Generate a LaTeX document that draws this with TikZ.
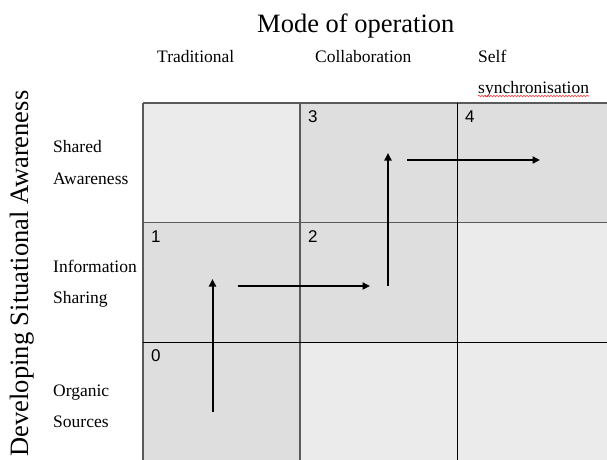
\documentclass[tikz,border=0pt]{standalone}
\usepackage{fontspec}
\setmainfont{Liberation Serif}
\newfontfamily\numfont{Liberation Sans}
\usetikzlibrary{arrows.meta,decorations.pathmorphing}

\definecolor{cellLight}{HTML}{EBEBEB}
\definecolor{cellDark}{HTML}{DEDEDE}
\definecolor{gridGray}{HTML}{5A5A5A}

\tikzset{
  cell/.style={draw=none, inner sep=0pt, outer sep=0pt, minimum width=157pt, minimum height=119.5pt, anchor=north west},
  lightcell/.style={cell, fill=cellLight},
  darkcell/.style={cell, fill=cellDark},
  label/.style={font=\fontsize{17.5}{20}\selectfont, inner sep=0pt, anchor=base west},
  heading/.style={font=\fontsize{26.5}{30}\selectfont, inner sep=0pt},
  levelnum/.style={font=\numfont\fontsize{17}{20}\selectfont, inner sep=0pt, anchor=base west},
  soft/.style={draw=gridGray, line width=1.4pt},
  hard/.style={draw=black, line width=1pt},
  progress/.style={line width=2pt, -{Triangle[length=7.5pt,width=7pt]}},
  spellmark/.style={draw=red!75!white, line width=0.6pt, decorate,
    decoration={snake, amplitude=0.8pt, segment length=3pt}}
}

\begin{document}
\begin{tikzpicture}[x=1pt,y=-1pt]
\useasboundingbox (0,0) rectangle (607,459);
\fill[white] (0,0) rectangle (607,459);

% grid cells (rows: top, middle, bottom)
\node[lightcell] (c00) at (143,103)   {};
\node[darkcell]  (c10) at (300,103)   {};
\node[darkcell]  (c20) at (457,103)   {};
\node[darkcell]  (c01) at (143,222.5) {};
\node[darkcell]  (c11) at (300,222.5) {};
\node[lightcell] (c21) at (457,222.5) {};
\node[darkcell]  (c02) at (143,342)   {};
\node[lightcell] (c12) at (300,342)   {};
\node[lightcell] (c22) at (457,342)   {};

% grid lines
\draw[soft] (c00.north west) -- (c20.north east);
\draw[soft] (c00.north west) -- (c02.south west);
\draw[soft] (c10.north west) -- (c12.south west);
\draw[soft] (c01.north west) -- (c21.north east);
\draw[hard] (c20.north west) -- (c22.south west);
\draw[hard] (c02.north west) -- (c22.north east);

% level numbers
\node[levelnum] (n0) at (151,361.5) {0};
\node[levelnum] (n1) at (151,242) {1};
\node[levelnum] (n2) at (308,242) {2};
\node[levelnum] (n3) at (308,122.5) {3};
\node[levelnum] (n4) at (465,122.5) {4};

% headings
\node[heading, anchor=base west] (mode) at (257,32) {Mode of operation};
\node[heading, anchor=base, rotate=90] (dsa) at (28,273.5) {Developing Situational Awareness};

% column labels
\node[label] (trad) at (157,62) {Traditional};
\node[label] (coll) at (315,62) {Collaboration};
\node[label] (self) at (478,62) {Self};
\node[label] (sync) at (478,93) {synchronisation};
\draw[spellmark] ([yshift=-3pt]sync.base west) -- ([yshift=-3pt]sync.base east);

% row labels
\node[label] (sh1) at (53,152) {Shared};
\node[label] (sh2) at (53,184) {Awareness};
\node[label] (in1) at (53,272) {Information};
\node[label] (in2) at (53,303) {Sharing};
\node[label] (or1) at (53,396) {Organic};
\node[label] (or2) at (53,427) {Sources};

% staircase of arrows
\coordinate (a0) at (212.5,412);
\coordinate (a1) at (212.5,279);
\coordinate (b0) at (237.5,286);
\coordinate (b1) at (370,286);
\coordinate (c0) at (388,286);
\coordinate (c1) at (388,153);
\coordinate (d0) at (407,160);
\coordinate (d1) at (540,160);
\draw[progress] (a0) -- (a1);
\draw[progress] (b0) -- (b1);
\draw[progress] (c0) -- (c1);
\draw[progress] (d0) -- (d1);
\end{tikzpicture}
\end{document}
